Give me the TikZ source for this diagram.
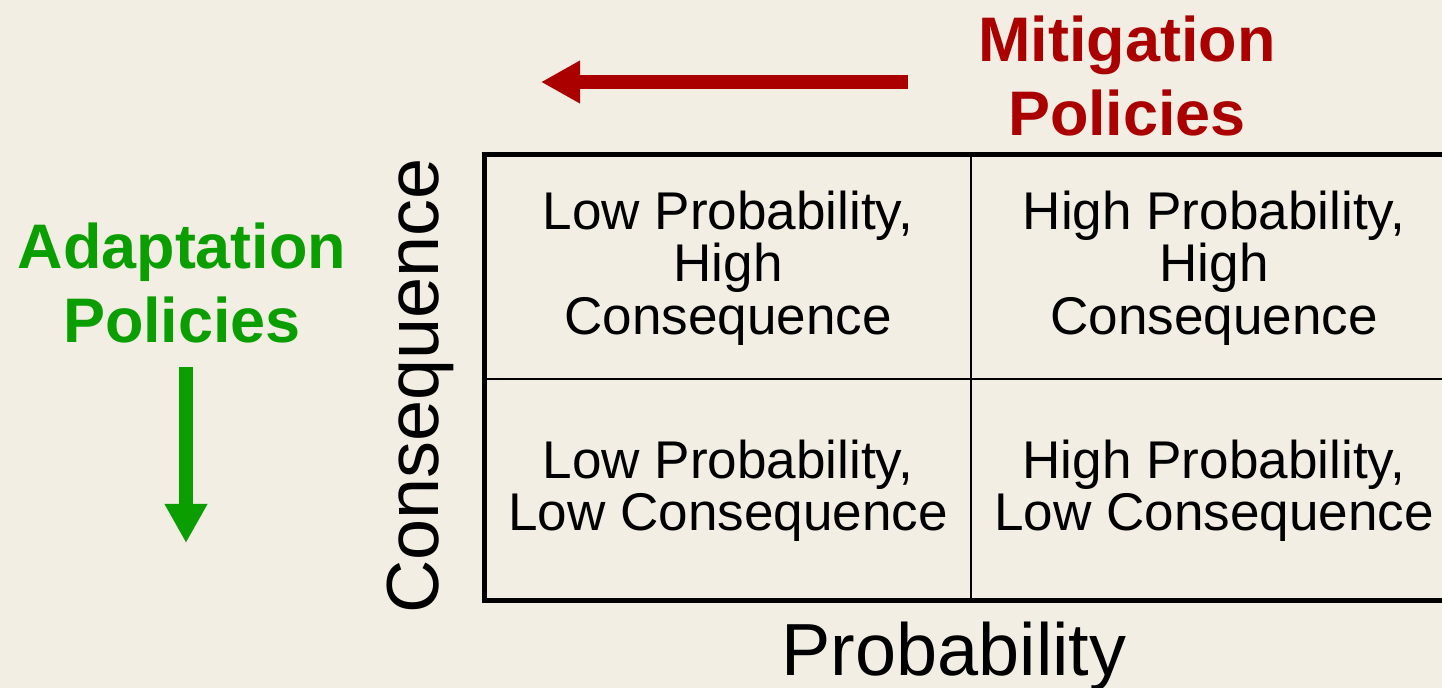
\documentclass[tikz,border=0pt]{standalone}
\usepackage{fontspec}
\setmainfont{Liberation Sans}
\usetikzlibrary{arrows.meta}
\definecolor{paper}{HTML}{F2EEE4}
\definecolor{mitred}{HTML}{AA0000}
\definecolor{adaptgreen}{HTML}{0A9E00}

\begin{document}
\begin{tikzpicture}[
    x=0.01cm, y=-0.01cm,
    cell/.style={align=center, font=\fontsize{15.1}{14.9}\selectfont},
    axis/.style={font=\fontsize{21}{24}\selectfont},
    policy/.style={align=center, font=\fontsize{17.9}{21.3}\selectfont\bfseries},
    push/.style={-{Triangle[length=11.1pt,width=11.4pt]}, line width=4pt}
]
    % page and margins
    \fill[paper] (0,0) rectangle (1442,688);
    \useasboundingbox (0,0) rectangle (1442,688);
    \clip (0,0) rectangle (1442,688);

    % risk matrix grid
    \draw[line width=1.4pt] (484.5,154.5) rectangle (1457.5,600.5);
    \draw[line width=0.6pt] (971,154.5) -- (971,600.5);
    \draw[line width=0.6pt] (484.5,379) -- (1457.5,379);

    \node[cell] (lphc) at (728,268)  {Low Probability,\\High\\Consequence};
    \node[cell] (hphc) at (1214,268) {High Probability,\\High\\Consequence};
    \node[cell] (lplc) at (728,491)  {Low Probability,\\Low Consequence};
    \node[cell] (hplc) at (1214,491) {High Probability,\\Low Consequence};

    % axis titles
    \node[axis, rotate=90] (conseq) at (420,386) {Consequence};
    \node[axis, anchor=base] (prob) at (954,675) {Probability};

    % policy directions
    \node[policy, text=mitred] (mitig) at (1127,76) {Mitigation\\Policies};
    \node[policy, text=adaptgreen] (adapt) at (182,283) {Adaptation\\Policies};

    \coordinate (mitfrom) at (908,82);
    \coordinate (mitto) at (541,82);
    \coordinate (adfrom) at (186,367);
    \coordinate (adto) at (186,543);
    \draw[push, mitred] (mitfrom) -- (mitto);
    \draw[push, adaptgreen] (adfrom) -- (adto);
\end{tikzpicture}
\end{document}
